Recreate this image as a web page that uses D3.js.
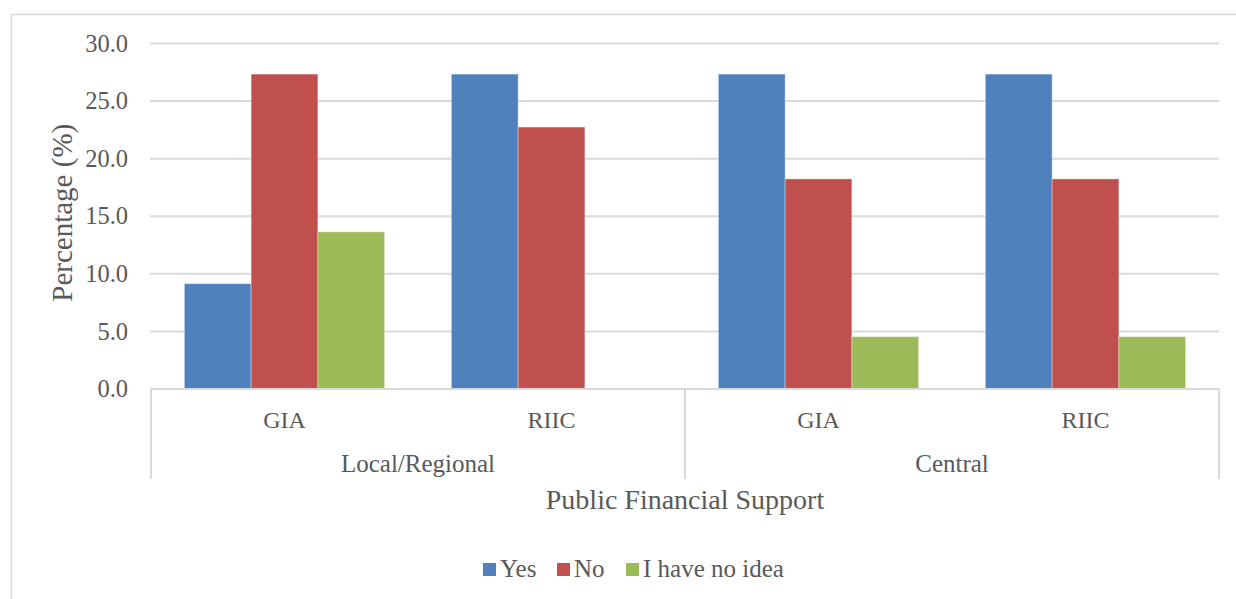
<!DOCTYPE html>
<html>
<head>
<meta charset="utf-8">
<script src="https://cdn.jsdelivr.net/npm/d3@7"></script>
<style>
  html, body { margin: 0; padding: 0; background: #fff; }
  svg { display: block; }
  text { font-family: "Liberation Serif", "Times New Roman", serif; fill: #595959; }
</style>
</head>
<body>
<svg id="chart" width="1236" height="599"></svg>
<script>
// Survey answers on public financial support schemes (percent of respondents)
const groups = ["Local/Regional", "Central"];
const schemes = ["GIA", "RIIC", "GIA", "RIIC"];
const schemeGroup = [0, 0, 1, 1];
const series = ["Yes", "No", "I have no idea"];
const yesValues = [9.1, 27.3, 27.3, 27.3];
const noValues = [27.3, 22.7, 18.2, 18.2];
const noIdeaValues = [13.6, 0.0, 4.5, 4.5];
const yTicks = [0, 5, 10, 15, 20, 25, 30];
const colors = ["#4F81BD", "#C0504D", "#9BBB59"];

const svg = d3.select("#chart");
const W = 1236, H = 599;
const plot = { left: 151, right: 1219, top: 43, bottom: 388.5 };

// outer frame
svg.append("rect")
  .attr("x", 11.5).attr("y", 14.5)
  .attr("width", W + 20).attr("height", H + 20)
  .attr("fill", "none").attr("stroke", "#D9D9D9").attr("stroke-width", 1.5);

const y = d3.scaleLinear().domain([0, 30]).range([plot.bottom, plot.top]);
const x0 = d3.scaleBand().domain(d3.range(schemes.length)).range([plot.left, plot.right]).padding(0);
const x1 = d3.scaleBand().domain(series).range([0, x0.bandwidth()]).paddingInner(0).paddingOuter(0.5);

// horizontal gridlines and value axis labels
const yAxis = d3.axisLeft(y).tickValues(yTicks).tickFormat(d3.format(".1f")).tickSize(0).tickPadding(0);
const gy = svg.append("g").attr("transform", `translate(${plot.left},0)`).call(yAxis);
gy.select(".domain").remove();
gy.selectAll(".tick text")
  .attr("x", -23).attr("dy", "0.33em")
  .attr("font-size", 24.5)
  .style("font-family", '"Liberation Serif", serif')
  .attr("fill", "#595959");
gy.selectAll(".tick").filter(d => d > 0).append("line")
  .attr("x1", -1).attr("x2", plot.right - plot.left)
  .attr("stroke", "#D9D9D9").attr("stroke-width", 2);

// bars
const table = schemes.map((s, i) => ({
  i, values: [yesValues[i], noValues[i], noIdeaValues[i]]
}));
const gBars = svg.append("g");
table.forEach(row => {
  gBars.selectAll(null)
    .data(row.values.map((v, k) => ({ v, k })))
    .join("rect")
    .attr("x", d => x0(row.i) + x1(series[d.k]))
    .attr("width", x1.bandwidth())
    .attr("y", d => y(d.v))
    .attr("height", d => y(0) - y(d.v))
    .attr("fill", d => colors[d.k])
    .attr("stroke", d => d.v > 0 ? "rgba(255,255,255,0.35)" : "none")
    .attr("stroke-width", 1);
});

// category axis: baseline, group separators, labels
const axisColor = "#D9D9D9";
svg.append("line")
  .attr("x1", plot.left).attr("x2", plot.right)
  .attr("y1", y(0) + 0.5).attr("y2", y(0) + 0.5)
  .attr("stroke", axisColor).attr("stroke-width", 2);

const sepX = [plot.left, x0(2), plot.right];
svg.selectAll(".sep").data(sepX).join("line")
  .attr("x1", d => d).attr("x2", d => d)
  .attr("y1", y(0)).attr("y2", 479)
  .attr("stroke", axisColor).attr("stroke-width", 2);

svg.selectAll(".scheme").data(schemes).join("text")
  .attr("x", (d, i) => x0(i) + x0.bandwidth() / 2)
  .attr("y", 428)
  .attr("text-anchor", "middle")
  .attr("font-size", 24)
  .text(d => d);

svg.selectAll(".group").data(groups).join("text")
  .attr("x", (d, g) => {
    const idx = schemeGroup.map((v, i) => v === g ? i : -1).filter(i => i >= 0);
    return (x0(idx[0]) + x0(idx[idx.length - 1]) + x0.bandwidth()) / 2;
  })
  .attr("y", 472)
  .attr("text-anchor", "middle")
  .attr("font-size", 25)
  .text(d => d);

// axis titles
svg.append("text")
  .attr("x", (plot.left + plot.right) / 2).attr("y", 509)
  .attr("text-anchor", "middle").attr("font-size", 28)
  .text("Public Financial Support");

svg.append("text")
  .attr("transform", `translate(72,${(plot.top + plot.bottom) / 2 - 3}) rotate(-90)`)
  .attr("text-anchor", "middle").attr("font-size", 29)
  .text("Percentage (%)");

// legend
const legendX = [483, 557, 626];
const lg = svg.append("g");
series.forEach((s, k) => {
  lg.append("rect")
    .attr("x", legendX[k]).attr("y", 563)
    .attr("width", 13).attr("height", 13)
    .attr("fill", colors[k]);
  lg.append("text")
    .attr("x", legendX[k] + 17).attr("y", 577)
    .attr("font-size", 25)
    .text(s);
});
</script>
</body>
</html>
